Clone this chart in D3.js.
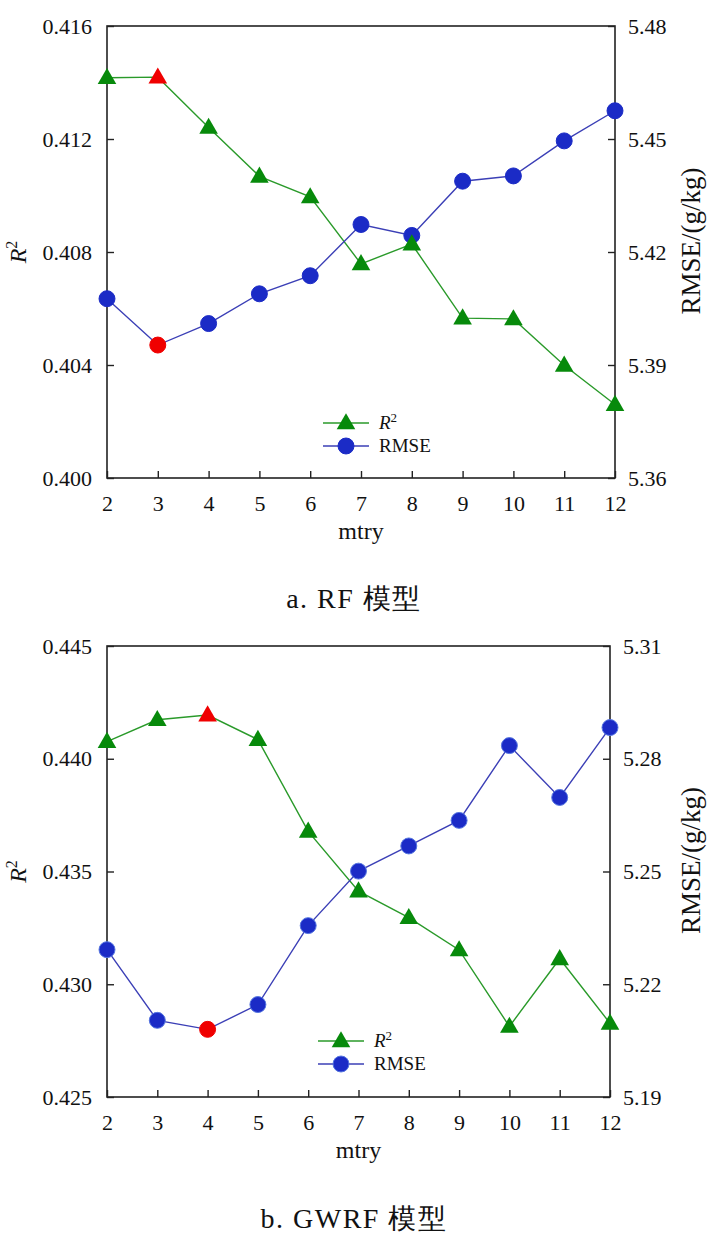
<!DOCTYPE html>
<html><head><meta charset="utf-8">
<script src="https://cdn.jsdelivr.net/npm/d3@7"></script>
<style>body{margin:0;background:#fff;} svg{display:block;} text{font-family:'Liberation Serif','Times New Roman',Tinos,'DejaVu Serif',serif;}</style>
</head><body>
<svg id="c" width="712" height="1244"></svg>
<script>
const mtry = [2,3,4,5,6,7,8,9,10,11,12];
// Panel a: RF
const rfR2   = [0.41417,0.41419,0.41241,0.41068,0.40995,0.40758,0.40828,0.40566,0.40563,0.40399,0.40260];
const rfRMSE = [5.4076,5.3953,5.4010,5.4089,5.4137,5.4273,5.4244,5.4388,5.4402,5.4495,5.4575];
const rfBest = 3;
const rfR2Ticks = [0.400,0.404,0.408,0.412,0.416];
const rfRMSETicks = [5.36,5.39,5.42,5.45,5.48];
// Panel b: GWRF
const gwR2   = [0.44076,0.44173,0.44194,0.44085,0.43678,0.43413,0.43295,0.43152,0.42813,0.43113,0.42827];
const gwRMSE = [5.2292,5.2104,5.2080,5.2146,5.2356,5.2501,5.2568,5.2636,5.2835,5.2697,5.2883];
const gwBest = 4;
const gwR2Ticks = [0.425,0.430,0.435,0.440,0.445];
const gwRMSETicks = [5.19,5.22,5.25,5.28,5.31];
const captions = ["a. RF 模型","b. GWRF 模型"];

const svg = d3.select("#c");
const FONT = "'Liberation Serif','Times New Roman',Tinos,'DejaVu Serif',serif";
const GREEN = "#078a0b", GLINE = "#2a9a2a", BLUE = "#1b2bc6", BLINE = "#3b3fb6", RED = "#f00000";

function panel(o){
  const g = svg.append("g");
  const x = d3.scaleLinear().domain([2,12]).range([o.left,o.right]);
  const yL = d3.scaleLinear().domain([o.r2Ticks[0], o.r2Ticks[o.r2Ticks.length-1]]).range([o.bottom,o.top]);
  const yR = d3.scaleLinear().domain([o.rmTicks[0], o.rmTicks[o.rmTicks.length-1]]).range([o.bottom,o.top]);

  g.append("rect").attr("x",o.left).attr("y",o.top).attr("width",o.right-o.left).attr("height",o.bottom-o.top)
    .attr("fill","none").attr("stroke","#222").attr("stroke-width",1.6);

  const styleAxis = sel => {
    sel.attr("font-family",FONT).attr("font-size",22);
    sel.select(".domain").remove();
    sel.selectAll(".tick line").attr("stroke","#222").attr("stroke-width",1.4);
    sel.selectAll(".tick text").style("font-family",FONT).attr("font-size",22).attr("fill","#111");
  };
  g.append("g").attr("transform",`translate(${o.left},0)`)
    .call(d3.axisLeft(yL).tickValues(o.r2Ticks).tickFormat(d3.format(".3f")).tickSizeInner(-7).tickPadding(15))
    .call(styleAxis);
  g.append("g").attr("transform",`translate(${o.right},0)`)
    .call(d3.axisRight(yR).tickValues(o.rmTicks).tickFormat(d3.format(".2f")).tickSizeInner(-7).tickPadding(13))
    .call(styleAxis);
  g.append("g").attr("transform",`translate(0,${o.bottom})`)
    .call(d3.axisBottom(x).tickValues(mtry).tickFormat(d3.format("d")).tickSizeInner(-7).tickPadding(17))
    .call(styleAxis);

  const midY = (o.top+o.bottom)/2;
  const lt = g.append("text").attr("transform",`translate(26,${midY}) rotate(-90)`).attr("text-anchor","middle")
    .attr("font-size",24).attr("fill","#111");
  lt.append("tspan").attr("font-style","italic").text("R");
  lt.append("tspan").attr("font-size",16).attr("dy",-9).text("2");
  g.append("text").attr("transform",`translate(700,${midY-11}) rotate(-90)`).attr("text-anchor","middle")
    .attr("font-size",27).attr("fill","#111").text("RMSE/(g/kg)");
  g.append("text").attr("x",(o.left+o.right)/2).attr("y",o.bottom+61).attr("text-anchor","middle")
    .attr("font-size",24).attr("fill","#111").text("mtry");
  g.append("text").attr("x",354).attr("y",o.capY).attr("text-anchor","middle")
    .attr("font-size",28).attr("letter-spacing",1.5).attr("fill","#111").text(o.caption);

  const tri = d3.symbol().type(d3.symbolTriangle).size(150);
  const cir = d3.symbol().type(d3.symbolCircle).size(200);

  g.append("path").datum(mtry.map((m,i)=>[m,o.r2[i]]))
    .attr("d",d3.line().x(d=>x(d[0])).y(d=>yL(d[1]))).attr("fill","none").attr("stroke",GLINE).attr("stroke-width",1.4);
  g.append("path").datum(mtry.map((m,i)=>[m,o.rm[i]]))
    .attr("d",d3.line().x(d=>x(d[0])).y(d=>yR(d[1]))).attr("fill","none").attr("stroke",BLINE).attr("stroke-width",1.4);

  g.selectAll(".c").data(mtry).enter().append("path")
    .attr("transform",(d,i)=>`translate(${x(d)},${yR(o.rm[i])})`).attr("d",cir)
    .attr("fill",d=>d===o.best?RED:BLUE).attr("stroke",d=>d===o.best?RED:o.cstroke).attr("stroke-width",1);
  g.selectAll(".t").data(mtry).enter().append("path")
    .attr("transform",(d,i)=>`translate(${x(d)},${yL(o.r2[i])+1})`).attr("d",tri)
    .attr("fill",d=>d===o.best?RED:GREEN);

  const lg = g.append("g");
  [[o.legY, "r2"],[o.legY+23,"rm"]].forEach(([yy,k])=>{
    lg.append("line").attr("x1",o.legX).attr("x2",o.legX+46).attr("y1",yy).attr("y2",yy)
      .attr("stroke",k==="r2"?GLINE:BLINE).attr("stroke-width",1.4);
    lg.append("path").attr("transform",`translate(${o.legX+23},${yy+(k==="r2"?1:0)})`).attr("d",k==="r2"?tri:cir)
      .attr("fill",k==="r2"?GREEN:BLUE).attr("stroke",k==="r2"?"none":o.cstroke);
    const t = lg.append("text").attr("x",o.legX+56).attr("y",yy+6).attr("font-size",19).attr("fill","#111");
    if(k==="r2"){ t.append("tspan").attr("font-style","italic").text("R"); t.append("tspan").attr("font-size",13).attr("dy",-7).text("2"); }
    else t.text("RMSE");
  });
}

panel({left:107,right:615,top:26,bottom:478,r2:rfR2,rm:rfRMSE,best:rfBest,r2Ticks:rfR2Ticks,rmTicks:rfRMSETicks,
  caption:captions[0],capY:608,legX:323,legY:423,cstroke:BLUE});
panel({left:107,right:610,top:646,bottom:1097,r2:gwR2,rm:gwRMSE,best:gwBest,r2Ticks:gwR2Ticks,rmTicks:gwRMSETicks,
  caption:captions[1],capY:1228,legX:318,legY:1041,cstroke:"#5575e0"});
</script>
</body></html>
